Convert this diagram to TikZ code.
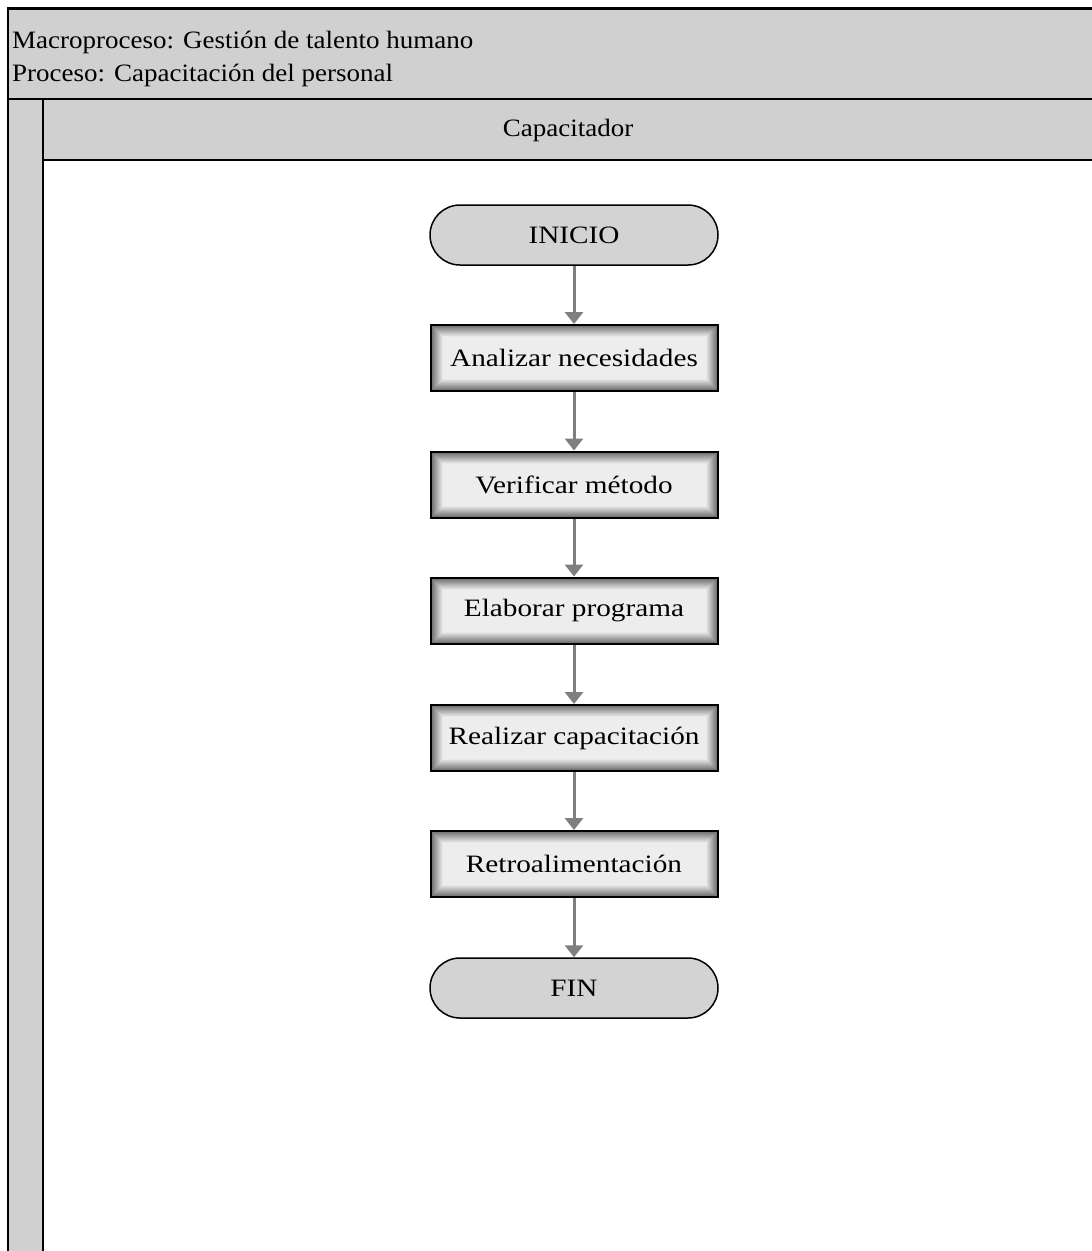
\documentclass[tikz,border=0pt]{standalone}
\usepackage{fontspec}
\setmainfont{Liberation Serif}
\newfontfamily\hdrfont{Liberation Serif}[FakeStretch=1.08]
\newfontfamily\boxfont{Liberation Serif}[FakeStretch=1.17]
\usetikzlibrary{arrows.meta,shapes.misc}

\definecolor{lanegray}{HTML}{D0D0D0}
\definecolor{termgray}{HTML}{D3D3D3}
\definecolor{arrowgray}{HTML}{7F7F7F}

\tikzset{
  hdrtext/.style={inner sep=0pt, font=\hdrfont\fontsize{25}{29}\selectfont},
  terminal/.style={rounded rectangle, draw=black, line width=1.5pt, fill=termgray,
    minimum width=288pt, minimum height=60pt, inner sep=0pt,
    font=\boxfont\fontsize{25}{29}\selectfont},
  stepbox/.style={rectangle, draw=black, line width=2pt,
    minimum width=287pt, minimum height=66pt, inner sep=0pt,
    font=\boxfont\fontsize{25}{29}\selectfont,
    path picture={
      \foreach \k in {0,...,12}{
        \pgfmathtruncatemacro\shade{max(7,58-4.4*\k)}
        \fill[black!\shade]
          ([shift={(\k pt,-\k pt)}]path picture bounding box.north west)
          rectangle
          ([shift={(-\k pt,\k pt)}]path picture bounding box.south east);
      }
    }},
  flow/.style={draw=arrowgray, line width=3pt, -{Triangle[width=18pt,length=12pt]}},
  frame/.style={draw=black, line width=2pt, fill=lanegray}
}

\begin{document}
\begin{tikzpicture}[x=1pt,y=-1pt]
  \useasboundingbox (0,0) rectangle (1092,1251);

  % pool header, lane strip and lane title band
  \path[frame] (8,8) rectangle (1100,99);
  \path[frame] (8,99) rectangle (43,1260);
  \path[frame] (43,99) rectangle (1100,160);
  \draw[black, line width=3pt] (8,8) -- (1100,8);

  \node[hdrtext, anchor=base west] (macro) at (12,48) {Macroproceso: Gestión de talento humano};
  \node[hdrtext, anchor=base west] (proc) at (12,81) {Proceso: Capacitación del personal};
  \node[hdrtext] (lane) at (568,130) {Capacitador};

  % flow
  \node[terminal] (inicio) at (574,235) {INICIO};
  \node[stepbox] (a1) at (574,358) {Analizar necesidades};
  \node[stepbox] (a2) at (574,484.5) {Verificar método};
  \node[stepbox] (a3) at (574,610.5) {Elaborar programa};
  \node[stepbox] (a4) at (574,738) {Realizar capacitación};
  \node[stepbox] (a5) at (574,864) {Retroalimentación};
  \node[terminal] (fin) at (574,988) {FIN};

  \draw[flow] (inicio) -- (a1);
  \draw[flow] (a1) -- (a2);
  \draw[flow] (a2) -- (a3);
  \draw[flow] (a3) -- (a4);
  \draw[flow] (a4) -- (a5);
  \draw[flow] (a5) -- (fin);
\end{tikzpicture}
\end{document}
